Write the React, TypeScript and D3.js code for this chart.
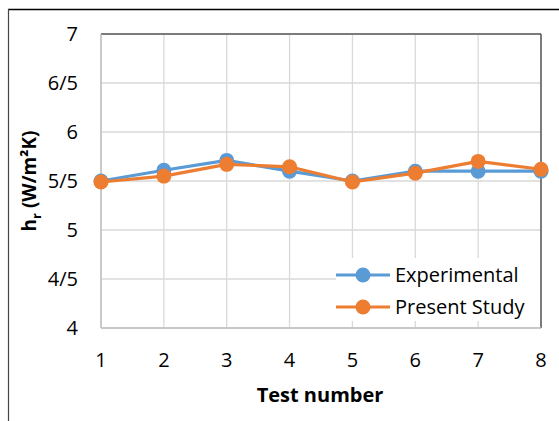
import React, { useEffect, useRef } from 'react';
import * as d3 from 'd3';

const testNumbers = [1, 2, 3, 4, 5, 6, 7, 8];
const experimental = [5.5, 5.61, 5.71, 5.6, 5.5, 5.6, 5.6, 5.6];
const presentStudy = [5.49, 5.55, 5.67, 5.645, 5.49, 5.58, 5.7, 5.62];
const yTicks = [4, 4.5, 5, 5.5, 6, 6.5, 7];
const yTickLabels = ['4', '4/5', '5', '5/5', '6', '6/5', '7'];
const seriesNames = ['Experimental', 'Present Study'];
const seriesColors = ['#5B9BD5', '#ED7D31'];

const W = 559;
const H = 421;
const FONT = '"Open Sans", Lato, sans-serif';
const FS = '20px';

const App: React.FC = () => {
  const svgRef = useRef<SVGSVGElement>(null);

  useEffect(() => {
    if (!svgRef.current) return;
    const svg = d3.select(svgRef.current).html('');

    const left = 101, right = 541, top = 34, bottom = 328;

    const x = d3.scaleLinear().domain([1, 8]).range([left, right]);
    const y = d3.scaleLinear().domain([4, 7]).range([bottom, top]);

    svg.append('rect').attr('width', W).attr('height', H).attr('fill', '#fff');

    // outer chart frame (cropped)
    svg.append('line').attr('x1', 8).attr('x2', W).attr('y1', 9.5).attr('y2', 9.5)
      .attr('stroke', '#000').attr('stroke-width', 1.5);
    svg.append('line').attr('x1', 8.5).attr('x2', 8.5).attr('y1', 9).attr('y2', H)
      .attr('stroke', '#444').attr('stroke-width', 1.2);

    // gridlines
    svg.append('g').selectAll('line.h').data(yTicks).join('line')
      .attr('x1', left).attr('x2', right)
      .attr('y1', d => y(d)).attr('y2', d => y(d))
      .attr('stroke', '#d9d9d9').attr('stroke-width', 1.3);
    svg.append('g').selectAll('line.v').data(testNumbers).join('line')
      .attr('x1', d => x(d)).attr('x2', d => x(d))
      .attr('y1', top).attr('y2', bottom)
      .attr('stroke', '#d9d9d9').attr('stroke-width', 1.3);

    // plot border
    svg.append('line').attr('x1', left).attr('x2', right).attr('y1', top).attr('y2', top)
      .attr('stroke', '#595959').attr('stroke-width', 1.3);
    svg.append('line').attr('x1', right).attr('x2', right).attr('y1', top).attr('y2', bottom)
      .attr('stroke', '#595959').attr('stroke-width', 1.5);
    svg.append('line').attr('x1', left).attr('x2', left).attr('y1', top).attr('y2', bottom)
      .attr('stroke', '#bfbfbf').attr('stroke-width', 1.5);
    svg.append('line').attr('x1', left).attr('x2', right).attr('y1', bottom).attr('y2', bottom)
      .attr('stroke', '#bfbfbf').attr('stroke-width', 1.5);

    // tick labels
    svg.append('g').selectAll('text').data(yTicks).join('text')
      .attr('x', 78).attr('y', d => y(d)).attr('dy', '0.36em')
      .attr('text-anchor', 'end')
      .style('font-family', FONT).style('font-size', FS).attr('fill', '#000')
      .text((d, i) => yTickLabels[i]);
    svg.append('g').selectAll('text').data(testNumbers).join('text')
      .attr('x', d => x(d)).attr('y', 360).attr('dy', '0.36em')
      .attr('text-anchor', 'middle')
      .style('font-family', FONT).style('font-size', FS).attr('fill', '#000')
      .text(d => String(d));

    // axis titles
    svg.append('text')
      .attr('x', 320).attr('y', 395).attr('dy', '0.36em').attr('text-anchor', 'middle')
      .style('font-family', FONT).style('font-size', FS).style('font-weight', 'bold')
      .text('Test number');
    const yt = svg.append('text')
      .attr('transform', 'translate(29,181) rotate(-90)')
      .attr('text-anchor', 'middle').attr('dy', '0.36em')
      .style('font-family', FONT).style('font-size', '19px').style('font-weight', 'bold');
    yt.append('tspan').text('h');
    yt.append('tspan').attr('dy', 5).style('font-size', '13px').text('r');
    yt.append('tspan').attr('dy', -5).text(' (W/m²K)');

    // series
    const seriesData = [experimental, presentStudy];
    const line = d3.line<number>().x((d, i) => x(testNumbers[i])).y(d => y(d));
    seriesData.forEach((vals, s) => {
      const g = svg.append('g');
      g.append('path').datum(vals).attr('d', line)
        .attr('fill', 'none').attr('stroke', seriesColors[s]).attr('stroke-width', 3.2)
        .attr('stroke-linejoin', 'round');
      g.selectAll('circle').data(vals).join('circle')
        .attr('cx', (d, i) => x(testNumbers[i])).attr('cy', d => y(d)).attr('r', 7.5)
        .attr('fill', seriesColors[s]);
    });

    // legend
    const lg = svg.append('g');
    lg.append('rect').attr('x', 336).attr('y', 258).attr('width', 204).attr('height', 63)
      .attr('fill', '#fff');
    seriesNames.forEach((name, i) => {
      const ly = 275 + i * 32;
      lg.append('line').attr('x1', 336).attr('x2', 390).attr('y1', ly).attr('y2', ly)
        .attr('stroke', seriesColors[i]).attr('stroke-width', 3.2);
      lg.append('circle').attr('cx', 363).attr('cy', ly).attr('r', 7.5).attr('fill', seriesColors[i]);
      lg.append('text').attr('x', 395).attr('y', ly).attr('dy', '0.36em')
        .style('font-family', FONT).style('font-size', FS).attr('fill', '#000')
        .text(name);
    });
  }, []);

  return <svg ref={svgRef} width={W} height={H} style={{ display: 'block', position: 'absolute', left: 0, top: 0 }} />;
};

export default App;
